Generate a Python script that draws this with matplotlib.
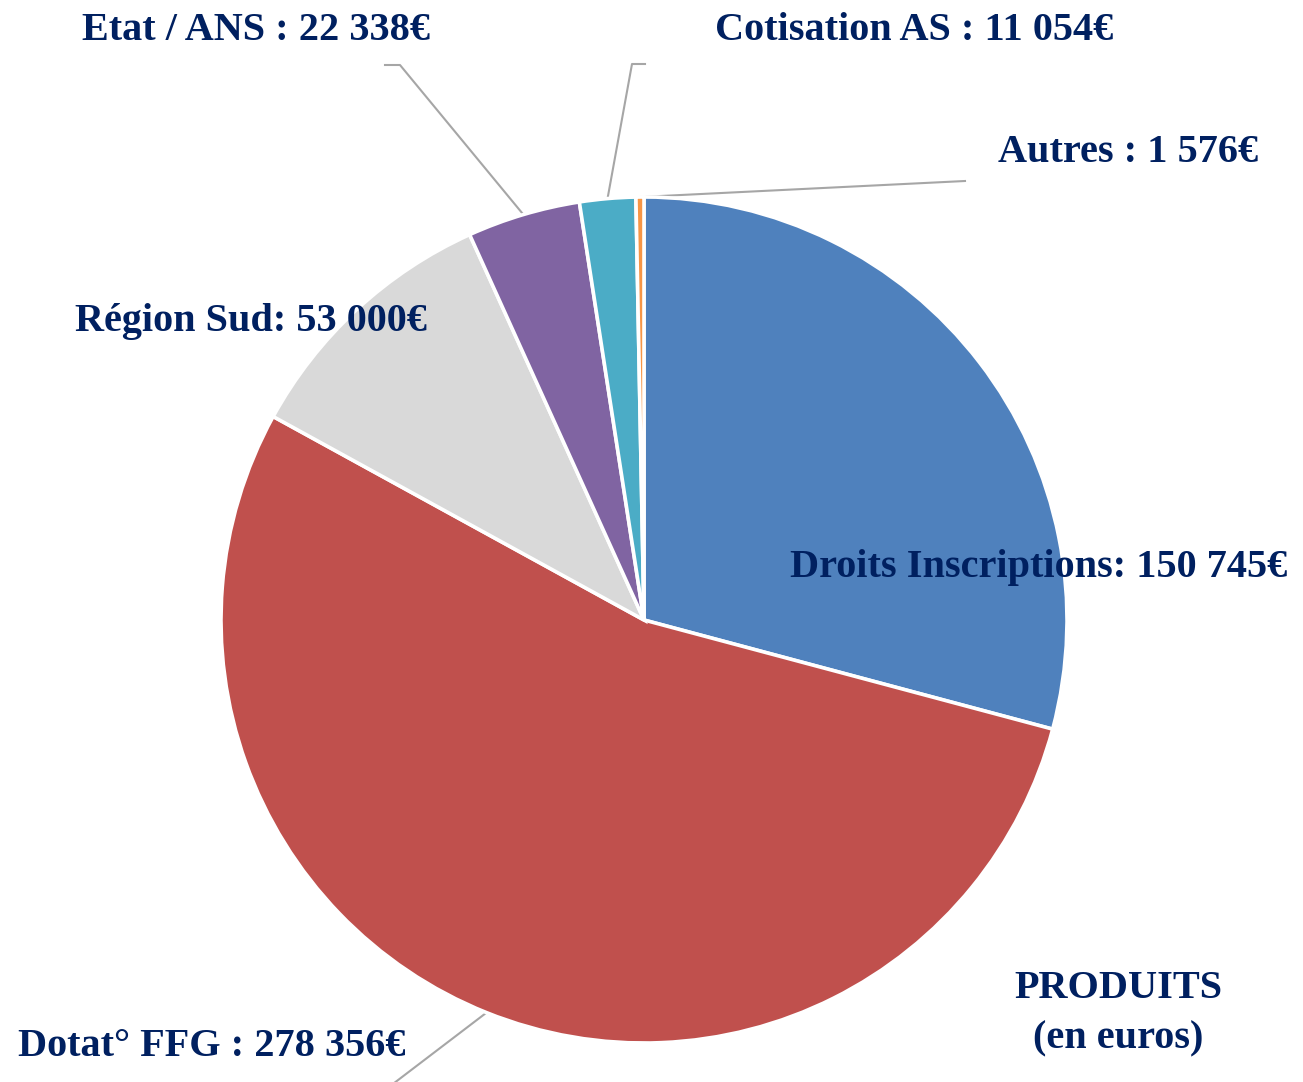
import numpy as np
import matplotlib.pyplot as plt

# === DATA ===
categories = ["Droits Inscriptions", "Dotat° FFG", "Région Sud", "Etat / ANS", "Cotisation AS", "Autres"]
values = [150745, 278356, 53000, 22338, 11054, 1576]
labels = ["Droits Inscriptions: 150 745€", "Dotat° FFG : 278 356€", "Région Sud: 53 000€",
          "Etat / ANS : 22 338€", "Cotisation AS : 11 054€", "Autres : 1 576€"]
colors = ["#4F81BD", "#C0504D", "#D9D9D9", "#8064A2", "#4BACC6", "#F79646"]

# === LAYOUT (pixels) ===
W, H = 1303, 1082
CX, CY, R = 644, 620, 423
NAVY = "#002060"
FONT = "Liberation Serif"
FS = 29

def fx(px):
    return px / W

def fy(py):
    return 1 - py / H

fig = plt.figure(figsize=(W / 100, H / 100), dpi=100)
ax = fig.add_axes([fx(CX - R), fy(CY + R), 2 * R / W, 2 * R / H])
ax.pie(values, colors=colors, startangle=90, counterclock=False, radius=1,
       wedgeprops=dict(edgecolor="white", linewidth=2.6))
ax.set_xlim(-1, 1)
ax.set_ylim(-1, 1)
ax.set_aspect("equal")
ax.axis("off")

# mid angles of wedges (degrees, math convention)
total = sum(values)
cum = np.cumsum([0] + values[:-1])
mids = [90 - 360 * (c + v / 2) / total for c, v in zip(cum, values)]

def edge_px(i):
    a = np.deg2rad(mids[i])
    return CX + R * np.cos(a), CY - R * np.sin(a)

def to_data(px, py):
    return (px - CX) / R, (CY - py) / R

# leader lines: wedge index -> points (pixels) after the wedge edge
leaders = {
    3: [(400, 65), (385, 65)],
    4: [(632, 64), (645, 64)],
    5: [(965, 181)],
    1: [(385, 1090)],
}
for i, pts in leaders.items():
    path = [edge_px(i)] + pts
    xs, ys = zip(*[to_data(*p) for p in path])
    ax.plot(xs, ys, color="#A6A6A6", lw=1.5, clip_on=False, zorder=0)

# label positions (left x, center y in pixels)
label_pos = {
    0: (790, 568),
    1: (18, 1047),
    2: (75, 321),
    3: (82, 30),
    4: (715, 30),
    5: (998, 153),
}
for i, (px, py) in label_pos.items():
    fig.text(fx(px), fy(py), labels[i], ha="left", va="center", fontsize=FS,
             fontweight="bold", color=NAVY, family=FONT)

fig.text(fx(1118), fy(989), "PRODUITS", ha="center", va="center", fontsize=FS,
         fontweight="bold", color=NAVY, family=FONT)
fig.text(fx(1118), fy(1039), "(en euros)", ha="center", va="center", fontsize=FS,
         fontweight="bold", color=NAVY, family=FONT)

fig.savefig("out.png", dpi=100, facecolor="white")
